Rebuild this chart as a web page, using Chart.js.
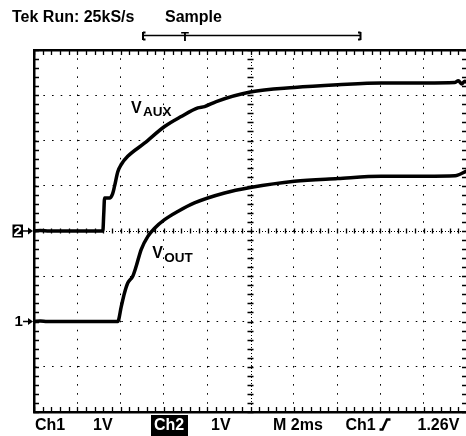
<!DOCTYPE html>
<html>
<head>
<meta charset="utf-8">
<script src="https://cdn.jsdelivr.net/npm/chart.js@4.4.1/dist/chart.umd.min.js"></script>
<style>
  html, body { margin: 0; padding: 0; background: #fff; overflow: hidden; }
  #wrap { position: relative; width: 466px; height: 436px; overflow: hidden;
          font-family: 'Liberation Sans', Arial, sans-serif; font-weight: bold; color: #000; }
  #scope { position: absolute; left: 0; top: 0; }
  .lbl { position: absolute; font-size: 16px; line-height: 16px; white-space: nowrap; }
  #ch2box { position: absolute; left: 151px; top: 415px; width: 37px; height: 21px; background: #000; }
  #ch2box span { position: absolute; left: 3px; top: 1.5px; color: #fff; font-size: 16px; line-height: 16px; }
  svg { position: absolute; overflow: visible; }
</style>
</head>
<body>
<div id="wrap">
  <canvas id="scope" width="470" height="436"></canvas>

  <!-- header -->
  <div class="lbl" style="left:12px; top:9px">Tek Run: 25kS/s</div>
  <div class="lbl" style="left:165px; top:9px">Sample</div>
  <svg style="left:0; top:0" width="466" height="50">
    <g stroke="#000" stroke-width="2" fill="none">
      <path d="M143 32 V40 M143 32.5 H145.5 M143 39.5 H145.5"/>
      <path d="M360.5 32 V40 M360.5 32.5 H358 M360.5 39.5 H358"/>
      <path d="M143 35.5 H360.5" stroke-width="1.6"/>
    </g>
    <text x="185" y="41" font-family="Liberation Sans, Arial, sans-serif" font-weight="bold" font-size="13" text-anchor="middle">T</text>
  </svg>

  <!-- footer -->
  <div class="lbl" style="left:35px; top:416.5px">Ch1</div>
  <div class="lbl" style="left:93px; top:416.5px">1V</div>
  <div id="ch2box"><span>Ch2</span></div>
  <div class="lbl" style="left:211px; top:416.5px">1V</div>
  <div class="lbl" style="left:273px; top:416.5px">M 2ms</div>
  <div class="lbl" style="left:345.5px; top:416.5px">Ch1</div>
  <svg style="left:379px; top:418px" width="13" height="13">
    <path d="M0.5 11.5 H3.5 L8 1.5 H11.5" stroke="#000" stroke-width="2.4" fill="none"/>
  </svg>
  <div class="lbl" style="left:417.5px; top:416.5px">1.26V</div>
</div>

<script>
// time axis: 2 ms/div, 10 divisions
const timeRange = [0, 20];
// Ch1 (VOUT), 1 V/div, ground 2 div below centre
const ch1Range = [-2, 6];
// Ch2 (VAUX), 1 V/div, ground at centre
const ch2Range = [-4, 4];

// VOUT trace (ms, V)
const timeOut = [0, 0.3, 0.6, 1.5, 3.87, 4.03, 4.18, 4.33, 4.56, 4.72, 4.95, 5.26, 5.57, 6.03, 6.64, 7.41, 8.8, 9.99, 12.03, 14.03, 16.04, 18.07, 19.45, 20];
const vOut    = [0, 0.01, 0, 0, 0, 0.33, 0.63, 0.85, 1.0, 1.22, 1.59, 1.88, 2.06, 2.25, 2.43, 2.62, 2.84, 2.96, 3.1, 3.16, 3.21, 3.21, 3.22, 3.33];

// VAUX trace (ms, V)
const timeAux = [0, 0.3, 0.7, 2.8, 3.18, 3.22, 3.26, 3.49, 3.63, 3.72, 3.87, 4.03, 4.33, 5.1, 6.03, 6.8, 7.57, 7.88, 8.42, 9.99, 12.03, 14.03, 16.04, 18.07, 19.43, 19.6, 19.75, 19.9, 20];
const vAux    = [0, 0.01, 0, 0, 0, 0.36, 0.73, 0.73, 0.82, 0.99, 1.31, 1.47, 1.65, 1.94, 2.31, 2.53, 2.72, 2.75, 2.86, 3.07, 3.17, 3.23, 3.27, 3.27, 3.28, 3.32, 3.25, 3.31, 3.28];

// where the trace names sit (ms, V on own channel)
const auxLabelAt = { t: 4.48, v: 2.61 };
const outLabelAt = { t: 5.46, v: 1.40 };

function toPoints(ts, vs) {
    return ts.map((t, i) => ({ x: t, y: vs[i] }));
}

// grid colour: hide the centre line, it is drawn with finer dots below
function gridColor(centre) {
    return function(ctx) {
        return ctx.tick && ctx.tick.value === centre ? 'rgba(0,0,0,0)' : '#000';
    };
}

const scopeFrame = {
    id: 'scopeFrame',
    beforeDatasetsDraw(chart) {
        const { ctx, chartArea: a, scales: { x, y } } = chart;
        const cx = x.getPixelForValue(10);
        const cy = y.getPixelForValue(2);
        ctx.save();
        ctx.strokeStyle = '#000';
        ctx.lineWidth = 1;

        // centre cross, dense dots
        ctx.setLineDash([1, 2]);
        ctx.beginPath();
        ctx.moveTo(Math.round(cx) + 0.5, a.top);
        ctx.lineTo(Math.round(cx) + 0.5, a.bottom);
        ctx.moveTo(a.left, Math.round(cy) + 0.5);
        ctx.lineTo(a.right, Math.round(cy) + 0.5);
        ctx.stroke();
        ctx.setLineDash([]);

        // minor ticks, 5 per division
        ctx.lineWidth = 1.3;
        ctx.beginPath();
        for (let i = 0; i <= 50; i++) {
            const px = Math.round(x.getPixelForValue(i * 0.4)) + 0.5;
            ctx.moveTo(px, a.top); ctx.lineTo(px, a.top + 5);
            ctx.moveTo(px, a.bottom); ctx.lineTo(px, a.bottom - 5);
            ctx.moveTo(px, cy - 2.5); ctx.lineTo(px, cy + 2.5);
        }
        for (let i = 0; i <= 40; i++) {
            const py = Math.round(y.getPixelForValue(-2 + i * 0.2)) + 0.5;
            ctx.moveTo(a.left, py); ctx.lineTo(a.left + 5, py);
            ctx.moveTo(a.right, py); ctx.lineTo(a.right - 5, py);
            ctx.moveTo(cx - 3, py); ctx.lineTo(cx + 3, py);
        }
        ctx.stroke();
        ctx.restore();
    },
    afterDatasetsDraw(chart) {
        const { ctx, chartArea: a, scales: { x, y, y2 } } = chart;
        ctx.save();
        ctx.fillStyle = '#000';
        ctx.strokeStyle = '#000';

        // trace names
        function traceName(at, scale, sub) {
            const px = x.getPixelForValue(at.t);
            const py = scale.getPixelForValue(at.v);
            ctx.font = 'bold 16px "Liberation Sans", Arial, sans-serif';
            ctx.fillText('V', px, py);
            ctx.font = 'bold 13.5px "Liberation Sans", Arial, sans-serif';
            ctx.fillText(sub, px + 12, py + 3.4);
        }
        traceName(auxLabelAt, y2, 'AUX');
        traceName(outLabelAt, y, 'OUT');

        // ground markers
        function arrow(gy) {
            ctx.lineWidth = 1.5;
            ctx.beginPath();
            ctx.moveTo(23, gy); ctx.lineTo(29, gy);
            ctx.stroke();
            ctx.beginPath();
            ctx.moveTo(28, gy - 3.5); ctx.lineTo(a.left - 1, gy); ctx.lineTo(28, gy + 3.5);
            ctx.closePath();
            ctx.fill();
        }
        const g1 = y.getPixelForValue(0);
        const g2 = y2.getPixelForValue(0);
        ctx.font = 'bold 15px "Liberation Sans", Arial, sans-serif';
        ctx.textBaseline = 'middle';
        ctx.fillText('1', 14.5, g1 + 0.5);
        arrow(g1);
        ctx.fillRect(12.5, g2 - 6.5, 10.5, 13);
        ctx.fillStyle = '#fff';
        ctx.fillText('2', 13.5, g2 + 0.5);
        ctx.fillStyle = '#000';
        arrow(g2);
        ctx.restore();
    }
};

const traceStyle = {
    borderColor: '#000',
    borderWidth: 3.5,
    pointRadius: 0,
    fill: false,
    cubicInterpolationMode: 'monotone'
};

new Chart(document.getElementById('scope').getContext('2d'), {
    type: 'line',
    data: {
        datasets: [
            Object.assign({ label: 'VOUT', data: toPoints(timeOut, vOut), yAxisID: 'y' }, traceStyle),
            Object.assign({ label: 'VAUX', data: toPoints(timeAux, vAux), yAxisID: 'y2' }, traceStyle)
        ]
    },
    options: {
        responsive: false,
        animation: false,
        events: [],
        layout: { padding: { left: 34, top: 50, right: 3, bottom: 24 } },
        plugins: { legend: { display: false }, tooltip: { enabled: false } },
        scales: {
            x: {
                type: 'linear', position: 'bottom', min: timeRange[0], max: timeRange[1],
                ticks: { display: false, stepSize: 2 },
                grid: { drawTicks: false, lineWidth: 1, color: gridColor(10) },
                border: { display: true, color: '#000', width: 2.5, dash: [1.6, 7.45], dashOffset: 0.8 }
            },
            xTop: {
                type: 'linear', position: 'top', min: timeRange[0], max: timeRange[1],
                ticks: { display: false },
                grid: { display: false, drawTicks: false },
                border: { display: true, color: '#000', width: 2.5 }
            },
            y: {
                type: 'linear', position: 'left', min: ch1Range[0], max: ch1Range[1],
                ticks: { display: false, stepSize: 1 },
                grid: { drawTicks: false, lineWidth: 1, color: gridColor(2) },
                border: { display: true, color: '#000', width: 2.5, dash: [1.6, 7.06], dashOffset: 0.8 }
            },
            y2: {
                type: 'linear', position: 'right', min: ch2Range[0], max: ch2Range[1],
                ticks: { display: false },
                grid: { display: false, drawTicks: false },
                border: { display: true, color: '#000', width: 2.5 }
            }
        }
    },
    plugins: [scopeFrame]
});
</script>
</body>
</html>
